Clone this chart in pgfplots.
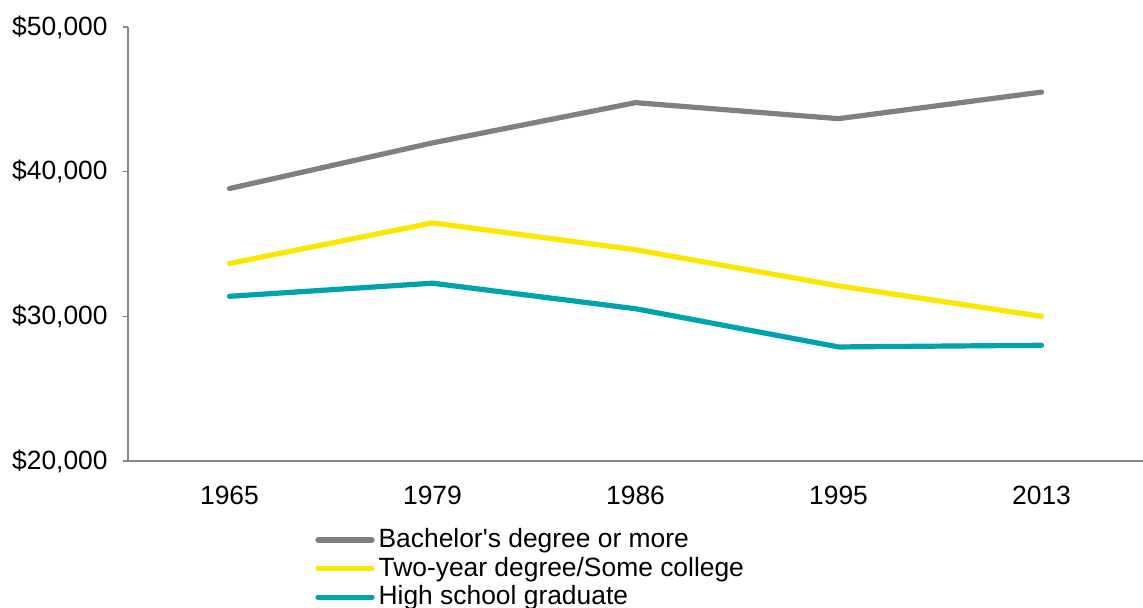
\documentclass[border=0pt]{standalone}
\usepackage{fontspec}
\setmainfont{Liberation Sans}[Ligatures=TeXOff]
\usepackage{pgfplots}
\pgfplotsset{compat=1.18}
\definecolor{cgray}{RGB}{128,128,128}
\definecolor{cyellow}{RGB}{255,230,0}
\definecolor{cteal}{RGB}{0,163,173}
\definecolor{axgray}{RGB}{134,134,134}
\begin{document}
\begin{tikzpicture}
\useasboundingbox (-64pt,-73.5pt) rectangle (507.5pt,230.5pt);
\begin{axis}[
  scale only axis,
  width=507.5pt, height=217pt,
  xmin=-0.5, xmax=4.5,
  ymin=20000, ymax=50000,
  scaled y ticks=false,
  axis x line=bottom, axis y line=left,
  axis line style={-, draw=axgray, line width=0.8pt},
  xtick={0,1,2,3,4},
  xticklabels={1965,1979,1986,1995,2013},
  ytick={20000,30000,40000,50000},
  yticklabels={{\$20,000},{\$30,000},{\$40,000},{\$50,000}},
  x tick style={draw=none},
  y tick style={draw=axgray, line width=0.8pt},
  tick align=outside,
  major tick length=2.5pt,
  ticklabel style={font=\fontsize{13.2}{15}\selectfont},
  yticklabel style={inner sep=0pt, xshift=-7.5pt},
  xticklabel style={inner sep=0pt, yshift=-10pt},
  legend style={at={(93.5pt,-33.5pt)}, anchor=north west, draw=none, fill=none,
    font=\fontsize{13.2}{14.5}\selectfont, inner sep=0pt, row sep=2.75pt,
    nodes={inner sep=0pt, text depth=0.2em}},
  legend cell align=left,
  legend image code/.code={\draw[#1, line cap=round] (0pt,0pt) -- (27pt,0pt);},
  every axis plot/.append style={line width=2.6pt, line cap=round, line join=round},
]
\addplot[cgray] coordinates {(0,38833) (1,41989) (2,44770) (3,43663) (4,45500)};
\addlegendentry{\hspace{2pt}Bachelor's degree or more}
\addplot[cyellow] coordinates {(0,33655) (1,36460) (2,34603) (3,32108) (4,30000)};
\addlegendentry{\hspace{2pt}Two-year degree/Some college}
\addplot[cteal] coordinates {(0,31384) (1,32290) (2,30525) (3,27883) (4,28000)};
\addlegendentry{\hspace{2pt}High school graduate}
\end{axis}
\end{tikzpicture}
\end{document}
